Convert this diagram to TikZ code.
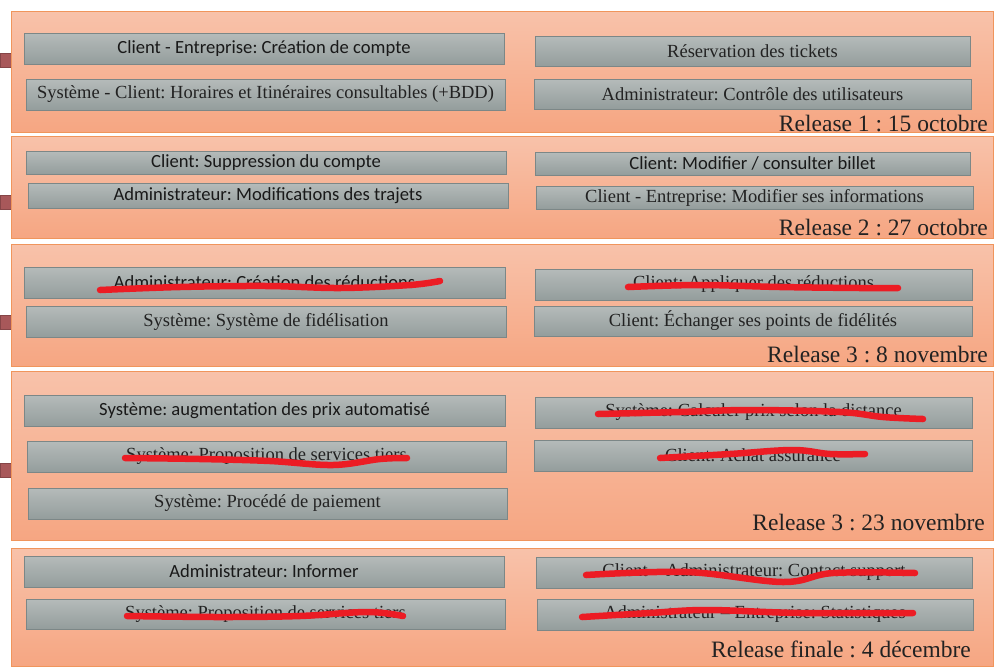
\documentclass[tikz,border=0pt]{standalone}
\usepackage{fontspec}
\setmainfont{Liberation Serif}
\newfontfamily\calibri{Carlito}
\frenchspacing
\usetikzlibrary{positioning}

\definecolor{panHaut}{HTML}{F8C2AA}
\definecolor{panBas}{HTML}{F6A682}
\definecolor{panBord}{HTML}{F0955C}
\definecolor{grisHaut}{HTML}{B5BBBA}
\definecolor{grisBas}{HTML}{949D9C}
\definecolor{grisBord}{HTML}{7C8787}
\definecolor{encre}{HTML}{222222}
\definecolor{rouge}{HTML}{EC1C24}
\definecolor{puce}{HTML}{A8585A}

\begin{document}
\begin{tikzpicture} [ x=1pt, y=-1pt
                    , panneau/.style={draw=panBord, line width=1pt, top color=panHaut, bottom color=panBas, minimum width=982, inner sep=0pt}
                    , tache/.style={draw=grisBord, line width=0.8pt, top color=grisHaut, bottom color=grisBas, inner sep=0pt, text=encre, font=\fontsize{18.5}{20}\selectfont}
                    , tacheSans/.style={tache, font=\calibri\fontsize{18.6}{20}\selectfont, text=black!90}
                    , jalon/.style={anchor=base east, inner sep=0pt, text=encre, font=\fontsize{23.5}{26}\selectfont}
                    , rature/.style={draw=rouge, line width=6.5pt, line cap=round, line join=round}
                    ]

  \useasboundingbox (0,0) rectangle (1008,670);

  % --- side markers -----------------------------------------------------------
  \foreach \y in {53, 195, 315, 463}
    \filldraw [fill=puce, draw=puce!80!black, line width=0.6pt] (0,\y) rectangle (12,\y+14);

  % --- Release 1 -------------------------------------------------------------
  \node [ panneau
        , minimum height=121
        ]
        (R1) at (502,71.5) {};

  \node [ tacheSans
        , minimum width=480, minimum height=31
        ]
        (R1a) at (264,48.5) {Client - Entreprise: Création de compte};

  \node [ tache
        , minimum width=479, minimum height=31
        ]
        (R1b) at (265.5,94.5) {Système - Client: Horaires et Itinéraires consultables (+BDD)};

  \node [ tache
        , minimum width=435, minimum height=30
        ]
        (R1c) at (752.5,51) {Réservation des tickets};

  \node [ tache
        , minimum width=437, minimum height=30
        ]
        (R1d) at (752.5,94) {Administrateur: Contrôle des utilisateurs};

  \node [jalon] (R1l) at (988,131) {Release 1 : 15 octobre};
  % ---------------------------------------------------------------------------

  % --- Release 2 -------------------------------------------------------------
  \node [ panneau
        , minimum height=102
        ]
        (R2) at (502,187) {};

  \node [ tacheSans
        , minimum width=480, minimum height=23
        ]
        (R2a) at (266,162.5) {Client: Suppression du compte};

  \node [ tacheSans
        , minimum width=480, minimum height=25
        ]
        (R2b) at (268,195.5) {Administrateur: Modifications des trajets};

  \node [ tacheSans
        , minimum width=435, minimum height=23
        ]
        (R2c) at (752.5,163.5) {Client: Modifier / consulter billet};

  \node [ tache
        , minimum width=437, minimum height=23
        ]
        (R2d) at (754.5,197.5) {Client - Entreprise: Modifier ses informations};

  \node [jalon] (R2l) at (988,235) {Release 2 : 27 octobre};
  % ---------------------------------------------------------------------------

  % --- Release 3 -------------------------------------------------------------
  \node [ panneau
        , minimum height=122
        ]
        (R3) at (502,305) {};

  \node [ tacheSans
        , minimum width=481, minimum height=31
        ]
        (R3a) at (264.5,282.5) {Administrateur: Création des réductions};

  \node [ tache
        , minimum width=480, minimum height=31
        ]
        (R3b) at (266,321.5) {Système: Système de fidélisation};

  \node [ tache
        , minimum width=437, minimum height=31
        ]
        (R3c) at (753.5,284.5) {Client: Appliquer des réductions};

  \node [ tache
        , minimum width=438, minimum height=30
        ]
        (R3d) at (753,321) {Client: Échanger ses points de fidélités};

  \node [jalon] (R3l) at (988,362) {Release 3 : 8 novembre};
  % ---------------------------------------------------------------------------

  % --- Release 3 bis ---------------------------------------------------------
  \node [ panneau
        , minimum height=169
        ]
        (R4) at (502,455.5) {};

  \node [ tacheSans
        , minimum width=481, minimum height=31
        ]
        (R4a) at (264.5,410.5) {Système: augmentation des prix automatisé};

  \node [ tache
        , minimum width=479, minimum height=31
        ]
        (R4b) at (266.5,456.5) {Système: Proposition de services tiers};

  \node [ tache
        , minimum width=479, minimum height=31
        ]
        (R4c) at (267.5,503.5) {Système: Procédé de paiement};

  \node [ tache
        , minimum width=437, minimum height=31
        ]
        (R4d) at (753.5,412.5) {Système: Calculer prix selon la distance};

  \node [ tache
        , minimum width=438, minimum height=31
        ]
        (R4e) at (753,455.5) {Client: Achat assurance};

  \node [jalon] (R4l) at (985,530) {Release 3 : 23 novembre};
  % ---------------------------------------------------------------------------

  % --- Release finale --------------------------------------------------------
  \node [ panneau
        , minimum height=118
        ]
        (R5) at (502,607) {};

  \node [ tacheSans
        , minimum width=480, minimum height=31
        ]
        (R5a) at (264,571.5) {Administrateur: Informer};

  \node [ tache
        , minimum width=479, minimum height=30
        ]
        (R5b) at (265.5,614) {Système: Proposition de services tiers};

  \node [ tache
        , minimum width=436, minimum height=31
        ]
        (R5c) at (754,572.5) {Client – Administrateur: Contact support};

  \node [ tache
        , minimum width=436, minimum height=31
        ]
        (R5d) at (755,614.5) {Administrateur – Entreprise: Statistiques};

  \node [jalon] (R5l) at (971,657) {Release finale : 4 décembre};
  % ---------------------------------------------------------------------------

  % --- crossed out -----------------------------------------------------------
  \draw [rature] plot [smooth, tension=0.6] coordinates {(100,290) (180,287) (267,286) (340,288) (410,285) (440,281)};
  \draw [rature] plot [smooth, tension=0.6] coordinates {(628,287) (700,285) (780,287) (860,288) (898,288)};
  \draw [rature] plot [smooth, tension=0.6] coordinates {(598,414) (680,412) (750,410) (840,412) (883,417) (923,419)};
  \draw [rature] plot [smooth, tension=0.6] coordinates {(660,458) (730,454) (793,450) (830,454) (865,454)};
  \draw [rature] plot [smooth, tension=0.6] coordinates {(125,458) (200,459) (270,461) (333,465) (380,459) (407,458)};
  \draw [rature] plot [smooth, tension=0.6] coordinates {(127,616) (220,617) (300,616) (367,612) (403,616)};
  \draw [rature] plot [smooth, tension=0.6] coordinates {(586,575) (687,572) (783,582) (833,573) (915,573)};
  \draw [rature] plot [smooth, tension=0.6] coordinates {(582,617) (650,613) (707,610) (800,613) (913,613)};
  % ---------------------------------------------------------------------------
\end{tikzpicture}
\end{document}
